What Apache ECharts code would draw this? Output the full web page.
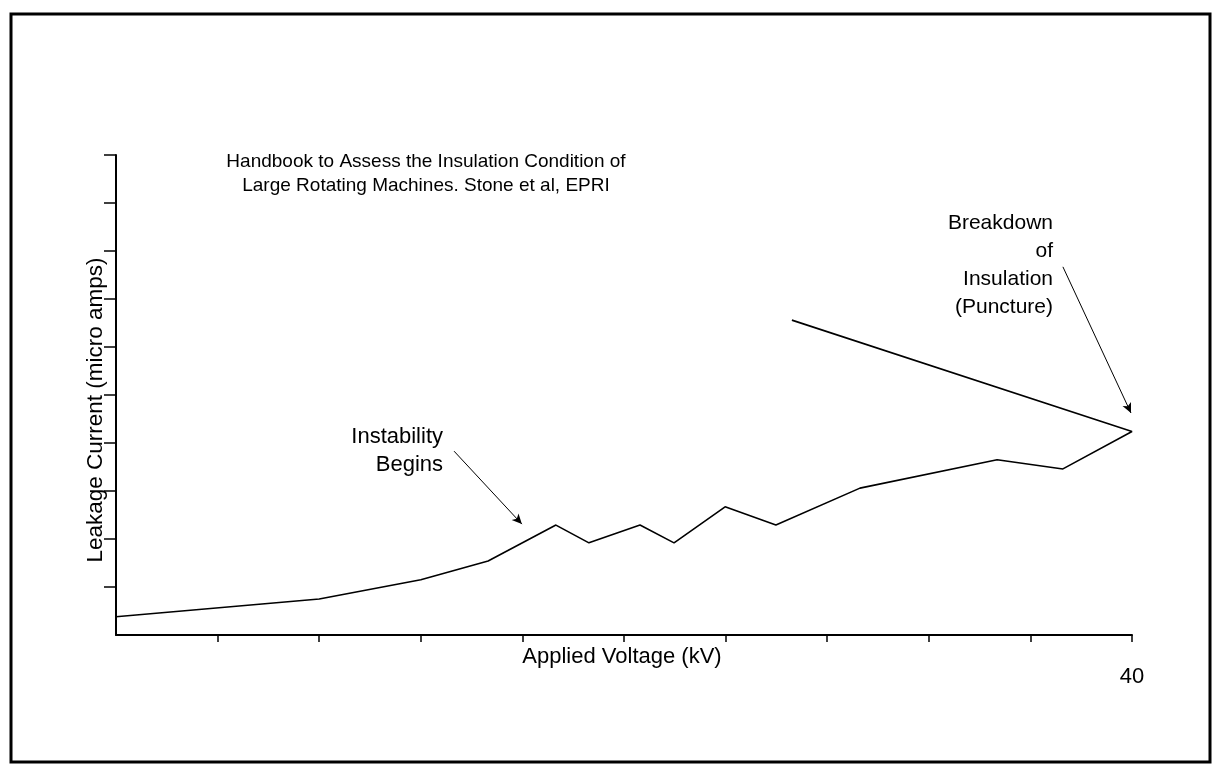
<!DOCTYPE html>
<html>
<head>
<meta charset="utf-8">
<title>Leakage Current vs Applied Voltage</title>
<script src="https://cdn.jsdelivr.net/npm/echarts@6/dist/echarts.min.js"></script>
<style>
    html, body { margin: 0; padding: 0; background: #fff; }
    #chart { width: 1222px; height: 776px; }
</style>
</head>
<body>
<div id="chart"></div>
<script>
// 資料 (kV, micro amps — 相對刻度)
const voltage = [0, 8, 12, 14.65, 17.32, 18.62, 20.63, 21.97, 23.98, 25.98, 29.29, 34.69, 37.28, 40, 26.61]
const current = [3.8, 7.5, 11.5, 15.4, 22.9, 19.2, 22.9, 19.2, 26.7, 22.9, 30.6, 36.5, 34.6, 42.4, 65.6]

// 箭頭 (資料座標)
const arrowInstability = [[13.31, 38.3], [15.98, 23.1]]
const arrowBreakdown = [[37.28, 76.7], [39.96, 46.25]]

// 刻度 (原點不畫刻度)
const xTicks = [4, 8, 12, 16, 20, 24, 28, 32, 36, 40]
const yTicks = [10, 20, 30, 40, 50, 60, 70, 80, 90, 100]
const xTickLabels = { 40: '40' }

const font = 'Liberation Sans, Arial, sans-serif'

const chart = echarts.init(document.getElementById('chart'))

const arrowLine = pts => [
    { coord: pts[0], symbol: 'none' },
    { coord: pts[1], symbol: 'arrow', symbolSize: [7, 10] }
]

chart.setOption({
    backgroundColor: '#fff',
    animation: false,
    grid: { left: 116, right: 90, top: 155, bottom: 141 },
    xAxis: {
        type: 'value',
        min: 0,
        max: 40,
        interval: 4,
        axisLine: { lineStyle: { color: '#000', width: 2 } },
        axisTick: { length: 7, customValues: xTicks, lineStyle: { color: '#000', width: 1.5 } },
        axisLabel: {
            color: '#000',
            fontFamily: font,
            fontSize: 22,
            margin: 31,
            showMaxLabel: true,
            formatter: v => xTickLabels[v] || ''
        },
        splitLine: { show: false }
    },
    yAxis: {
        type: 'value',
        min: 0,
        max: 100,
        interval: 10,
        axisLine: { show: true, lineStyle: { color: '#000', width: 2 } },
        axisTick: { show: true, length: 12, customValues: yTicks, lineStyle: { color: '#000', width: 1.5 } },
        axisLabel: { show: false },
        splitLine: { show: false }
    },
    series: [{
        type: 'line',
        data: voltage.map((v, i) => [v, current[i]]),
        showSymbol: false,
        lineStyle: { color: '#000', width: 1.6 },
        markLine: {
            silent: true,
            label: { show: false },
            lineStyle: { color: '#000', width: 1, type: 'solid' },
            data: [arrowLine(arrowInstability), arrowLine(arrowBreakdown)]
        }
    }],
    graphic: [
        {
            type: 'rect',
            shape: { x: 11, y: 14, width: 1199, height: 748 },
            style: { fill: 'none', stroke: '#000', lineWidth: 3 },
            silent: true
        },
        {
            type: 'text',
            x: 426,
            y: 174,
            style: {
                text: 'Handbook to Assess the Insulation Condition of\nLarge Rotating Machines. Stone et al, EPRI',
                fill: '#000',
                font: `19px ${font}`,
                lineHeight: 24,
                align: 'center',
                verticalAlign: 'middle'
            }
        },
        {
            type: 'text',
            x: 443,
            y: 451,
            style: {
                text: 'Instability\nBegins',
                fill: '#000',
                font: `22px ${font}`,
                lineHeight: 28,
                align: 'right',
                verticalAlign: 'middle'
            }
        },
        {
            type: 'text',
            x: 1053,
            y: 265,
            style: {
                text: 'Breakdown\nof\nInsulation\n(Puncture)',
                fill: '#000',
                font: `21px ${font}`,
                lineHeight: 28,
                align: 'right',
                verticalAlign: 'middle'
            }
        },
        {
            type: 'text',
            x: 622,
            y: 657,
            style: {
                text: 'Applied Voltage (kV)',
                fill: '#000',
                font: `22px ${font}`,
                align: 'center',
                verticalAlign: 'middle'
            }
        },
        {
            type: 'text',
            x: 96,
            y: 410,
            rotation: Math.PI / 2,
            style: {
                text: 'Leakage Current (micro amps)',
                fill: '#000',
                font: `22.5px ${font}`,
                align: 'center',
                verticalAlign: 'middle'
            }
        }
    ]
})
</script>
</body>
</html>
